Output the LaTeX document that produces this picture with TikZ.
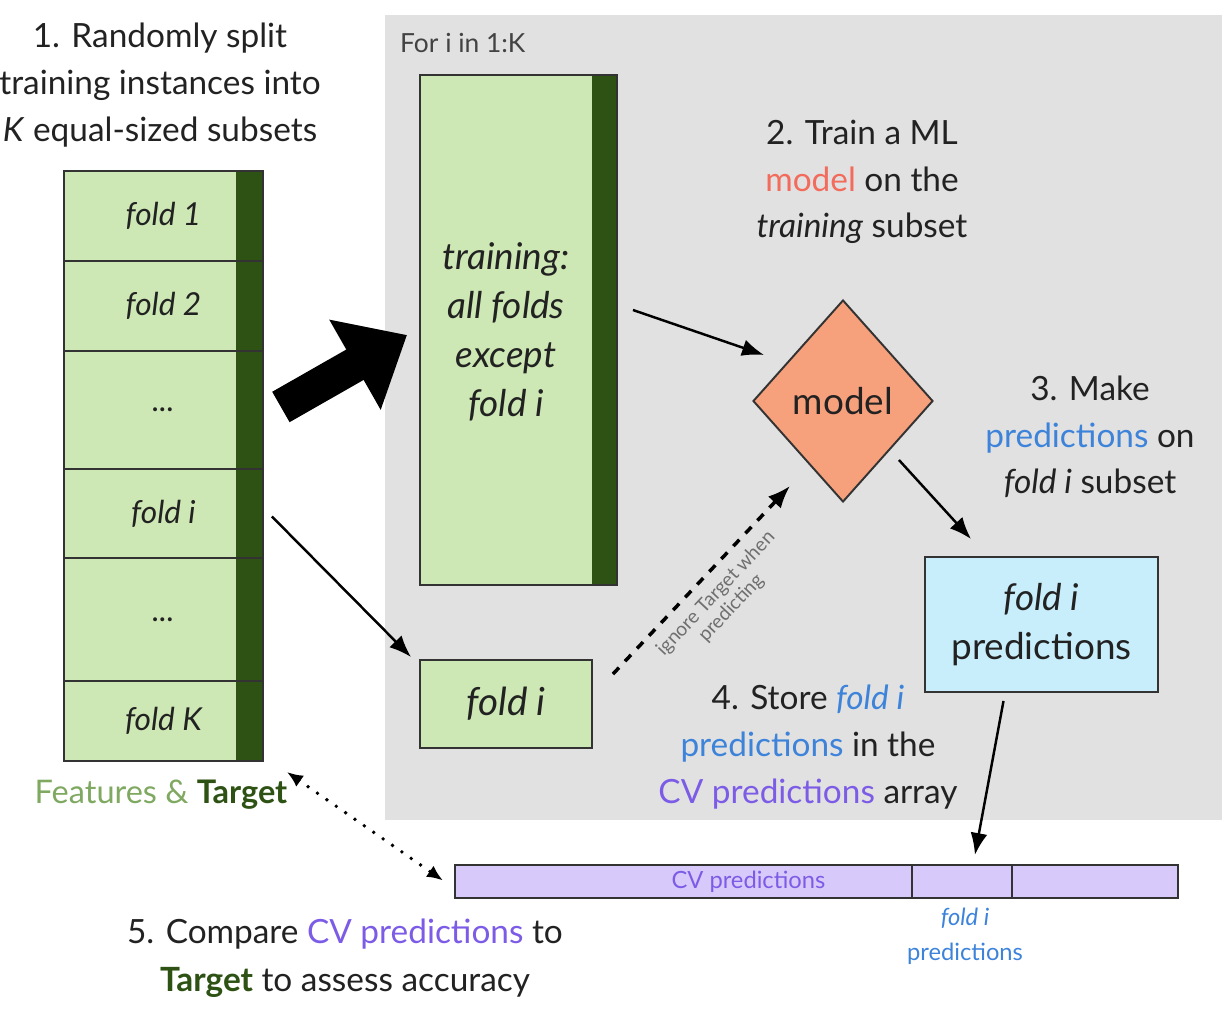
\documentclass[tikz,border=0pt]{standalone}
\usepackage{fontspec}
\setmainfont{Lato}
\usepackage{tikz}
\usetikzlibrary{positioning,arrows.meta,shapes.geometric}
\usepackage{xcolor}
\definecolor{ink}{HTML}{222222}
\definecolor{edge}{HTML}{333333}
\definecolor{panel}{HTML}{E1E1E1}
\definecolor{foldfill}{HTML}{CDE8B4}
\definecolor{targetc}{HTML}{2E5214}
\definecolor{featc}{HTML}{7FA861}
\definecolor{modelc}{HTML}{F6A07C}
\definecolor{modeltxt}{HTML}{F26B5B}
\definecolor{predc}{HTML}{3D83DA}
\definecolor{predfill}{HTML}{C8EEFB}
\definecolor{cvc}{HTML}{7C5CE6}
\definecolor{cvfill}{HTML}{D7C9FA}
\newcommand{\gapdots}{...}

\begin{document}
\begin{tikzpicture}[x=0.02cm, y=-0.02cm, >=Latex,
    txt/.style={font=\fontsize{19}{26.6}\selectfont, align=center, text=ink},
    small/.style={font=\fontsize{13.5}{20}\selectfont},
    foldcell/.style={draw=edge, line width=1.1pt, fill=foldfill, inner sep=0pt, text=ink, font=\fontsize{18}{22}\selectfont\itshape},
    targetstrip/.style={path picture={\fill[targetc] ([xshift=-#1]path picture bounding box.north east) rectangle (path picture bounding box.south east);}},
    cvcell/.style={draw=edge, line width=1.1pt, fill=cvfill, inner sep=0pt, outer sep=0pt, minimum height=0.66cm},
    conn/.style={line width=1.4pt, -{Latex[length=0.44cm,width=0.34cm]}}]
  \useasboundingbox (0,0) rectangle (1230,1018);

  % loop panel
  \fill[panel] (385,15) rectangle (1222,820);
  \node[anchor=west, font=\fontsize{15}{18}\selectfont, text=ink!85] (loop) at (394,43) {For i in 1:K};

  % step 1: the folds
  \node[txt] (step1) at (160,85) {1. Randomly split\\training instances into\\\textit{K} equal-sized subsets};
  \foreach \n/\ya/\yb/\lbl in {f1/170/260/fold 1, f2/260/350/fold 2, d1/350/468/\gapdots, fi/468/557/fold i, d2/557/680/\gapdots, fK/680/760/fold K}
    \node[foldcell, targetstrip=0.54cm, anchor=north west, minimum width=3.98cm, minimum height={(\yb-\ya)*0.02cm}] (\n) at (63,\ya) {\lbl};
  \node[txt, font=\fontsize{18.5}{24}\selectfont, text=featc] (feat) at (161,795) {Features \& {\color{targetc}\bfseries Target}};

  % training / held-out fold
  \node[foldcell, targetstrip=0.5cm, minimum width=3.94cm, minimum height=10.2cm] (train) at (518.5,330) {};
  \node[align=center, text=ink, font=\fontsize{21}{28}\selectfont\itshape] (trainlbl) at (506,332) {training:\\all folds\\except\\fold i};
  \node[foldcell, minimum width=3.44cm, minimum height=1.76cm, font=\fontsize{22}{26}\selectfont\itshape] (foldsmall) at (506,704) {fold i};

  % model and predictions
  \node[txt] (step2) at (862,182) {2. Train a ML\\{\color{modeltxt}model} on the\\\textit{training} subset};
  \node[diamond, aspect=1, draw=edge, line width=1.1pt, fill=modelc, minimum width=3.6cm, minimum height=4.04cm, inner sep=0pt, text=ink, font=\fontsize{21}{24}\selectfont] (model) at (843,401) {model};
  \node[txt] (step3) at (1090,437) {3. Make\\{\color{predc}predictions} on\\\textit{fold i} subset};
  \node[draw=edge, line width=1.1pt, fill=predfill, minimum width=4.66cm, minimum height=2.7cm, align=center, text=ink, font=\fontsize{21}{28}\selectfont] (pred) at (1041.5,624.5) {\textit{fold i}\\predictions};
  \node[txt] (step4) at (808,747) {4. Store {\color{predc}\itshape fold i}\\{\color{predc}predictions} in the\\{\color{cvc}CV predictions} array};

  % CV predictions array
  \node[cvcell, minimum width=9.14cm, anchor=west, label={[small, text=cvc, xshift=1.3cm]center:CV predictions}] (cvmain) at (455,881.5) {};
  \node[cvcell, minimum width=2cm, right=0pt of cvmain] (cvfold) {};
  \node[cvcell, minimum width=3.32cm, right=0pt of cvfold] (cvrest) {};
  \node[small, text=predc, align=center] (cvfoldlbl) at (965,936) {\textit{fold i}\\predictions};
  \node[txt, font=\fontsize{19}{27.2}\selectfont] (step5) at (345,958) {5. Compare {\color{cvc}CV predictions} to\\{\color{targetc}\bfseries Target} to assess accuracy};

  % connectors
  \draw[line width=0.7cm, -{Triangle[length=1.2cm,width=2cm]}] ([shift={(17,-3)}]d1.east) -- ([shift={(-12,5)}]train.west);
  \draw[conn] ([shift={(15,-20)}]train.east) -- ([shift={(12,-46)}]model.west);
  \draw[conn] ([shift={(-35,59)}]model.east) -- ([shift={(47,-17)}]pred.north west);
  \draw[conn] ([shift={(-38,8)}]pred.south) -- ([shift={(13,-10)}]cvfold.north);
  \draw[conn] ([shift={(8,3)}]fi.east) -- ([shift={(-8,-2)}]foldsmall.north west);
  \draw[line width=2pt, dash pattern=on 5pt off 5pt, -{Latex[length=0.45cm,width=0.35cm]}] ([shift={(20,15)}]foldsmall.north east) -- ([shift={(-53,-17)}]model.south)
    node[midway, sloped, below, yshift=-2pt, align=center, text=ink!65, font=\fontsize{11}{12}\selectfont] (ignorelbl) {ignore Target when\\predicting};
  \draw[line width=2.2pt, line cap=round, dash pattern=on 0pt off 6.5pt, {Latex[length=0.32cm,width=0.27cm]}-{Latex[length=0.32cm,width=0.27cm]}] ([shift={(23,10)}]fK.south east) -- ([shift={(-12,-1)}]cvmain.west);
\end{tikzpicture}
\end{document}
